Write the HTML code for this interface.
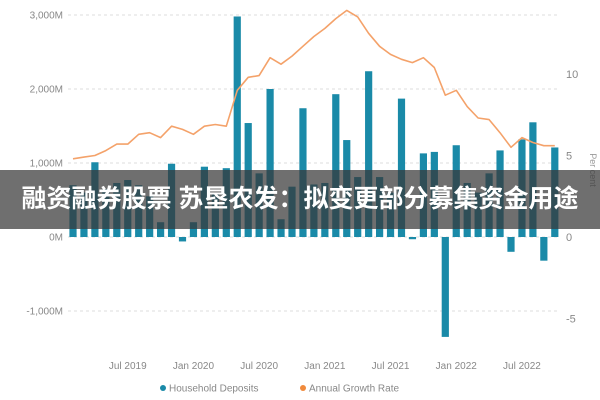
<!DOCTYPE html>
<html><head><meta charset="utf-8"><style>
html,body{margin:0;padding:0;background:#fff;width:600px;height:400px;overflow:hidden}
svg{display:block;font-family:"Liberation Sans",sans-serif}
</style></head><body>
<svg id="chart" width="600" height="400">
<g id="grid"></g>
<g id="bars"></g>
<g id="line"></g>
<g id="axes"></g>
<text x="590" y="170" transform="rotate(90 590 170)" font-size="9" fill="#999" text-anchor="middle">Per cent</text>
<g>
<circle cx="163" cy="388" r="3" fill="#1a8aa8"/>
<text x="169" y="391.5" font-size="10" fill="#888">Household Deposits</text>
<circle cx="303" cy="388" r="3" fill="#f08a3c"/>
<text x="309" y="391.5" font-size="10" fill="#888">Annual Growth Rate</text>
</g>
<rect x="0" y="170" width="600" height="59" fill="rgba(55,55,55,0.72)"/>
<text x="300" y="207" text-anchor="middle" font-size="25" font-weight="bold" fill="#fff" style="font-family:'Liberation Sans','Noto Sans CJK SC',sans-serif">融资融券股票 苏垦农发：拟变更部分募集资金用途</text>
</svg>
<script>
const deposits = [700,600,1010,650,730,770,700,550,200,990,-60,200,950,600,930,2980,1540,860,2000,240,680,1740,710,730,1930,1310,810,2240,810,600,1870,-30,1130,1150,-1350,1240,730,600,860,1170,-200,1320,1550,-320,1210];
const growth = [4.8,4.9,5.0,5.3,5.7,5.7,6.3,6.4,6.1,6.8,6.6,6.3,6.8,6.9,6.8,9.0,9.8,9.9,11.0,10.6,11.1,11.7,12.3,12.8,13.4,13.9,13.5,12.5,11.7,11.2,10.9,10.7,11.0,10.4,8.7,9.0,8.0,7.3,7.2,6.4,5.5,6.1,5.8,5.6,5.6];
const leftTicks = [3000,2000,1000,0,-1000];
const leftTickLabels = ["3,000M","2,000M","1,000M","0M","-1,000M"];
const rightTicks = [10,5,0,-5];
const xTickIdx = [5,11,17,23,29,35,41];
const xTickLabels = ["Jul 2019","Jan 2020","Jul 2020","Jan 2021","Jul 2021","Jan 2022","Jul 2022"];

const NS="http://www.w3.org/2000/svg";
const x = i => 73 + i*10.95;
const yL = v => 237 - v*0.074;
const yR = v => 237 - v*16.3;
function mk(tag, attrs, parent){const e=document.createElementNS(NS,tag);for(const k in attrs)e.setAttribute(k,attrs[k]);document.getElementById(parent).appendChild(e);return e;}

leftTicks.forEach((t,i)=>{
  const g=mk('line',{x1:68,x2:560,y1:yL(t),y2:yL(t),stroke:'#ddd','stroke-dasharray':'3,3'},'grid');
  
  
  const l=mk('text',{x:63,y:yL(t)+3.5,'font-size':10,fill:'#888','text-anchor':'end'},'axes');
  l.textContent=leftTickLabels[i];
  
  
});
rightTicks.forEach(t=>{
  const l=mk('text',{x:566,y:yR(t)+4,'font-size':11,fill:'#888'},'axes');
  l.textContent=String(t);
  
  
});
xTickIdx.forEach((idx,i)=>{
  const l=mk('text',{x:x(idx),y:369,'font-size':10,fill:'#888','text-anchor':'middle'},'axes');
  l.textContent=xTickLabels[i];
  
  
});
deposits.forEach((v,i)=>{
  const y0=yL(0), y1=yL(v);
  const b=mk('rect',{x:x(i)-3.6,y:Math.min(y0,y1),width:7.2,height:Math.max(1.5,Math.abs(y1-y0)),fill:'#1a8aa8'},'bars');
  
  
});
const pts=growth.map((v,i)=>x(i).toFixed(1)+','+yR(v).toFixed(1)).join(' ');
const p=mk('polyline',{points:pts,fill:'none',stroke:'#f4a26a','stroke-width':1.6,'stroke-linejoin':'round'},'line');


</script>
</body></html>
